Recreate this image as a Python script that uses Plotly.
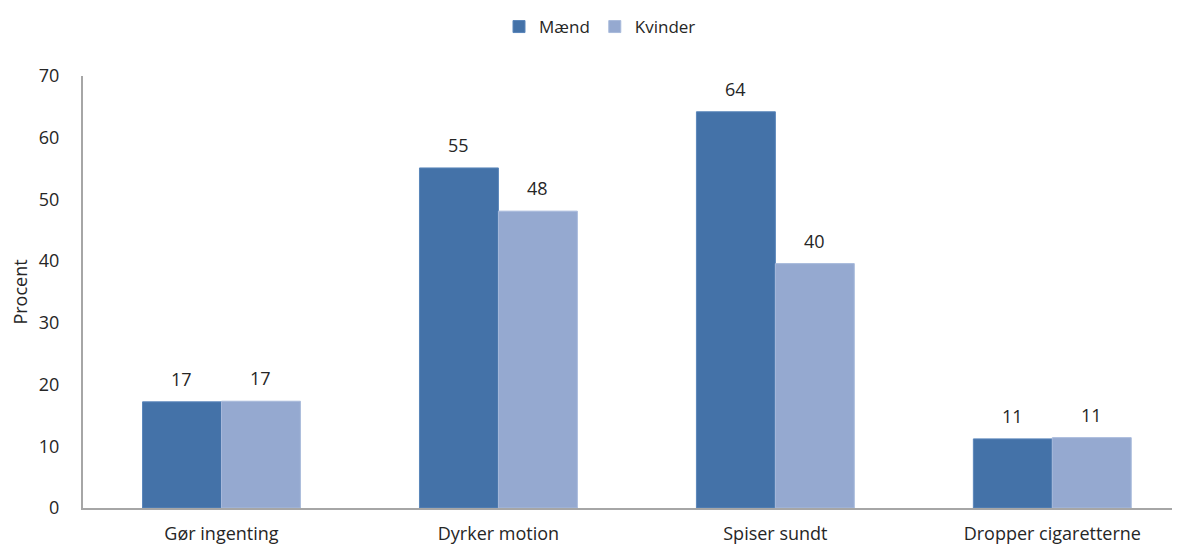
import plotly.graph_objects as go

categories = ["Gør ingenting", "Dyrker motion", "Spiser sundt", "Dropper cigaretterne"]
maend = [17.2, 55.1, 64.2, 11.2]
kvinder = [17.3, 48.1, 39.6, 11.4]
y_ticks = [0, 10, 20, 30, 40, 50, 60, 70]

FONT = "Open Sans, Liberation Sans, sans-serif"
FS = 18

fig = go.Figure()
fig.add_trace(go.Bar(
    x=categories, y=maend, name="Mænd",
    marker=dict(color="#4472A8", line=dict(color="#5A86BA", width=1)),
))
fig.add_trace(go.Bar(
    x=categories, y=kvinder, name="Kvinder",
    marker=dict(color="#95A9D0", line=dict(color="#A8BADB", width=1)),
))

annotations = []
for series, shift in ((maend, -39.5), (kvinder, 39.5)):
    for cat, val in zip(categories, series):
        annotations.append(dict(
            x=cat, y=val, xref="x", yref="y", text=f"{round(val)}",
            showarrow=False, xshift=shift, yshift=23, yanchor="middle",
            font=dict(size=FS, color="#262626", family=FONT),
        ))

fig.update_layout(
    width=1180, height=547,
    margin=dict(l=75, r=0, t=68, b=47),
    paper_bgcolor="white", plot_bgcolor="white",
    barmode="group", bargap=0.43, bargroupgap=0,
    font=dict(family=FONT, size=FS, color="#262626"),
    annotations=annotations,
    legend=dict(orientation="h", x=592 / 1180, xanchor="center", xref="container",
                y=1 - 19 / 547, yanchor="middle", yref="container",
                font=dict(size=17), itemwidth=30, traceorder="normal"),
    xaxis=dict(showline=True, linecolor="#A6A6A6", linewidth=2, ticks="",
               tickfont=dict(size=FS), showgrid=False, range=[-0.5, 3.49],
               ticklabelstandoff=8),
    yaxis=dict(range=[0, 70], tickvals=y_ticks, showline=True, linecolor="#A6A6A6",
               linewidth=2, showgrid=False, ticks="", tickfont=dict(size=FS),
               ticklabelstandoff=18,
               title=dict(text="Procent", font=dict(size=FS), standoff=8),
               zeroline=False),
)

fig.write_html("out.html")
